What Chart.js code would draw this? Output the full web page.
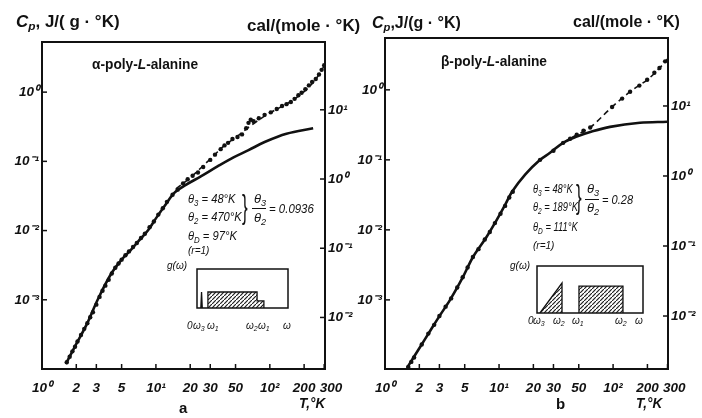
<!DOCTYPE html>
<html><head><meta charset="utf-8">
<script src="https://cdn.jsdelivr.net/npm/chart.js@4.4.1/dist/chart.umd.min.js"></script>
<style>
body{margin:0;background:#fff;}
#wrap{position:relative;width:702px;height:418px;overflow:hidden;background:#fff;font-family:'Liberation Sans',Arial,sans-serif;color:#111;}
canvas{position:absolute;}
.t{position:absolute;white-space:nowrap;line-height:1;transform-origin:left center;}
.t sub{font-size:70%;vertical-align:-0.3em;line-height:0;}
.i{font-style:italic;}
.b{font-weight:bold;}
</style></head><body><div id="wrap">
<canvas id="ca" width="380" height="418" style="left:0px;top:0px"></canvas>
<canvas id="cb" width="362" height="418" style="left:340px;top:0px"></canvas>
<canvas id="ia" width="93" height="41" style="left:196px;top:268px"></canvas>
<canvas id="ib" width="108" height="49" style="left:536px;top:265px"></canvas>
</div>
<script>
// ---- axis ticks ----
const T_TICKS = [1, 2, 3, 5, 10, 20, 30, 50, 100, 200, 300];
const T_TICK_LABELS = ['10\u2070', '2', '3', '5', '10\u00B9', '20', '30', '50', '10\u00B2', '200', '300'];
const CP_TICKS = [1e-3, 1e-2, 1e-1, 1];
const CP_TICK_LABELS = ['10\u207B\u00B3', '10\u207B\u00B2', '10\u207B\u00B9', '10\u2070'];
const CAL_TICKS = [1e-2, 1e-1, 1, 10];
const CAL_TICK_LABELS = ['10\u207B\u00B2', '10\u207B\u00B9', '10\u2070', '10\u00B9'];

// ---- panel a : alpha-poly-L-alanine ----
const A_MEAS_T  = [1.65,1.75,1.85,1.95,2.05,2.2,2.35,2.5,2.65,2.8,3.0,3.2,3.4,3.6,3.85,4.1,4.4,4.7,5.0,5.4,5.8,6.3,6.8,7.4,8.0,8.8,9.6,10.5,11.5,12.5,14,15.5,17.3,19,21,23.4,26,30,33,37,40,43,47,52,57,62,65,68,72,80,90,102,115,128,140,153,165,178,190,205,220,235,253,270,285,300];
const A_MEAS_CP = [1.25e-4,1.5e-4,1.8e-4,2.1e-4,2.5e-4,3.1e-4,3.8e-4,4.6e-4,5.6e-4,6.6e-4,8.5e-4,1.1e-3,1.35e-3,1.6e-3,1.95e-3,2.4e-3,2.9e-3,3.35e-3,3.8e-3,4.4e-3,5.0e-3,5.8e-3,6.6e-3,7.8e-3,9.0e-3,1.12e-2,1.35e-2,1.7e-2,2.1e-2,2.6e-2,3.3e-2,3.9e-2,4.8e-2,5.5e-2,6.2e-2,6.9e-2,8.3e-2,0.105,0.125,0.15,0.17,0.185,0.21,0.225,0.245,0.30,0.36,0.40,0.38,0.42,0.47,0.51,0.57,0.63,0.67,0.72,0.80,0.90,0.98,1.10,1.25,1.40,1.55,1.80,2.10,2.45];
const A_THEORY_T  = [1.62,2.0,2.5,3.08,4.0,5.0,6.0,7.0,8.5,10,12,14.5,18,25,35,48,65,90,140,240];
const A_THEORY_CP = [1.19e-4,2.3e-4,4.6e-4,1.0e-3,2.3e-3,3.8e-3,5.2e-3,7.0e-3,1.0e-2,1.5e-2,2.3e-2,3.5e-2,4.5e-2,6.1e-2,8.5e-2,0.114,0.145,0.19,0.25,0.30];
const A_SMOOTH_T  = [15,20,30,40,50,70,100,150,200,250,305];
const A_SMOOTH_CP = [0.040,0.058,0.108,0.17,0.22,0.34,0.50,0.72,1.02,1.50,2.50];

// ---- panel b : beta-poly-L-alanine ----
const B_MEAS_T  = [1.6,1.7,1.8,2.1,2.4,2.7,3.0,3.4,3.8,4.3,4.8,5.3,5.9,6.6,7.5,8.3,9.2,10.3,11.3,12.3,13.2,22.9,30,36.5,42,48,55,63,98,120,141,170,199,230,255,286];
const B_MEAS_CP = [1.1e-4,1.3e-4,1.5e-4,2.3e-4,3.3e-4,4.4e-4,5.9e-4,8.0e-4,1.05e-3,1.5e-3,2.1e-3,2.9e-3,4.1e-3,5.3e-3,7.3e-3,9.3e-3,1.25e-2,1.7e-2,2.2e-2,2.9e-2,3.5e-2,0.10,0.135,0.175,0.20,0.228,0.26,0.29,0.57,0.75,0.94,1.15,1.39,1.75,2.05,2.55];
const B_THEORY_T  = [1.56,2.0,2.5,3.0,3.72,4.83,5.91,7.69,9.22,11.3,13.0,17,22.9,28,36.4,48,63,94,172,297];
const B_THEORY_CP = [1.07e-4,2.04e-4,3.65e-4,5.86e-4,1.0e-3,2.13e-3,4.1e-3,7.7e-3,1.26e-2,2.28e-2,3.5e-2,6.2e-2,0.10,0.126,0.175,0.215,0.25,0.296,0.338,0.35];
const B_SMOOTH_T  = [36.4,48,63,98,141,199,245,300];
const B_SMOOTH_CP = [0.175,0.228,0.29,0.57,0.94,1.39,1.90,2.75];

// ---- insets g(omega) ----
const INSET_A_SPIKE_W = [0.42,0.5,0.58];
const INSET_A_SPIKE_G = [0,1,0];
const INSET_A_BAND_W  = [1.2,1.2,6.6,6.6,7.35,7.35];
const INSET_A_BAND_G  = [0,1,1,0.44,0.44,0];
const INSET_B_TRI_W   = [0.28,2.36,2.36];
const INSET_B_TRI_G   = [0,1,0];
const INSET_B_BAND_W  = [3.96,3.96,8.11,8.11];
const INSET_B_BAND_G  = [0,0.9,0.9,0];

const toXY = (xs, ys) => xs.map((x, i) => ({x: x, y: ys[i]}));
const INK = '#111';
const tickFont = {family: "'Liberation Sans', Arial, sans-serif", size: 13.5, style: 'italic', weight: 'bold'};

const framePlugin = {
  id: 'frame',
  afterDatasetsDraw(chart) {
    const {ctx, chartArea: a, scales} = chart;
    ctx.save();
    ctx.strokeStyle = INK;
    ctx.lineWidth = 2;
    ctx.strokeRect(a.left, a.top, a.right - a.left, a.bottom - a.top);
    ctx.lineWidth = 1.5;
    const L = 5;
    const seg = (x1, y1, x2, y2) => { ctx.beginPath(); ctx.moveTo(x1, y1); ctx.lineTo(x2, y2); ctx.stroke(); };
    scales.x.ticks.forEach(t => { const p = scales.x.getPixelForValue(t.value); seg(p, a.bottom, p, a.bottom - L); });
    scales.y.ticks.forEach(t => { const p = scales.y.getPixelForValue(t.value); seg(a.left, p, a.left + L, p); });
    scales.y2.ticks.forEach(t => { const p = scales.y2.getPixelForValue(t.value); seg(a.right, p, a.right - L, p); });
    ctx.restore();
  }
};

function panel(id, c) {
  const noGrid = {display: false, drawTicks: false};
  const lastX = T_TICKS.length - 1;
  return new Chart(document.getElementById(id), {
    type: 'scatter',
    data: {datasets: [
      {data: toXY(c.smT, c.smC), showLine: true, borderColor: INK, borderWidth: 1.6, borderDash: [6, 4], pointRadius: 0, tension: 0.35, order: 3},
      {data: toXY(c.thT, c.thC), showLine: true, borderColor: INK, borderWidth: 2.6, pointRadius: 0, tension: 0.35, order: 2},
      {data: toXY(c.msT, c.msC), showLine: false, pointRadius: 2.2, pointBackgroundColor: INK, pointBorderWidth: 0, order: 1}
    ]},
    options: {
      responsive: false, animation: false, devicePixelRatio: 1,
      layout: {padding: {top: c.top, left: 0, right: 0, bottom: 0}},
      plugins: {legend: {display: false}, tooltip: {enabled: false}},
      scales: {
        x: {type: 'logarithmic', position: 'bottom', min: c.xMin, max: c.xMax,
            grid: noGrid, border: {display: false},
            afterFit(s) { s.height = c.bottomH; },
            afterBuildTicks(s) { s.ticks = T_TICKS.map(v => ({value: v})); },
            ticks: {autoSkip: false, maxRotation: 0, minRotation: 0, padding: 11, color: INK, font: tickFont,
                    // the last label sits a little right of its tick, as in the print
                    callback: (v, i) => (i === lastX ? '\u2002\u2002' : '') + T_TICK_LABELS[i]}},
        y: {type: 'logarithmic', position: 'left', min: c.yMin, max: c.yMax,
            grid: noGrid, border: {display: false},
            afterFit(s) { s.width = c.leftW; },
            afterBuildTicks(s) { s.ticks = CP_TICKS.map(v => ({value: v})); },
            ticks: {autoSkip: false, padding: 3, color: INK, font: tickFont,
                    callback: (v, i) => CP_TICK_LABELS[i]}},
        y2: {type: 'logarithmic', position: 'right', min: c.yMin * c.f, max: c.yMax * c.f,
            grid: noGrid, border: {display: false},
            afterFit(s) { s.width = c.rightW; },
            afterBuildTicks(s) { s.ticks = CAL_TICKS.map(v => ({value: v})); },
            ticks: {autoSkip: false, padding: 3, color: INK, font: tickFont,
                    callback: (v, i) => CAL_TICK_LABELS[i]}}
      }
    },
    plugins: [framePlugin]
  });
}

panel('ca', {msT: A_MEAS_T, msC: A_MEAS_CP, thT: A_THEORY_T, thC: A_THEORY_CP, smT: A_SMOOTH_T, smC: A_SMOOTH_CP,
  top: 42, leftW: 42, rightW: 55, bottomH: 49, xMin: 1, xMax: 305, yMin: 1e-4, yMax: 5.3, f: 18});
panel('cb', {msT: B_MEAS_T, msC: B_MEAS_CP, thT: B_THEORY_T, thC: B_THEORY_CP, smT: B_SMOOTH_T, smC: B_SMOOTH_CP,
  top: 38, leftW: 45, rightW: 34, bottomH: 49, xMin: 1, xMax: 303, yMin: 1.03e-4, yMax: 5.5, f: 17});

function hatch() {
  const c = document.createElement('canvas'); c.width = 4; c.height = 4;
  const x = c.getContext('2d');
  x.fillStyle = '#fff'; x.fillRect(0, 0, 4, 4);
  x.strokeStyle = '#222'; x.lineWidth = 1.2;
  x.beginPath(); x.moveTo(-1, 5); x.lineTo(5, -1); x.stroke();
  return x.createPattern(c, 'repeat');
}
const boxPlugin = {
  id: 'box',
  afterDatasetsDraw(chart) {
    const {ctx, chartArea: a} = chart;
    ctx.save(); ctx.strokeStyle = INK; ctx.lineWidth = 1.5;
    ctx.strokeRect(a.left, a.top, a.right - a.left, a.bottom - a.top);
    ctx.restore();
  }
};
function inset(id, shapes, yMax) {
  const pat = hatch();
  return new Chart(document.getElementById(id), {
    type: 'scatter',
    data: {datasets: shapes.map(s => ({data: toXY(s[0], s[1]), showLine: true, fill: 'origin',
      backgroundColor: s[2] ? INK : pat, borderColor: INK, borderWidth: 1.3, pointRadius: 0, tension: 0}))},
    options: {
      responsive: false, animation: false, devicePixelRatio: 1,
      layout: {padding: 1},
      plugins: {legend: {display: false}, tooltip: {enabled: false}},
      scales: {x: {type: 'linear', display: false, min: 0, max: 10}, y: {type: 'linear', display: false, min: 0, max: yMax}}
    },
    plugins: [boxPlugin]
  });
}
inset('ia', [[INSET_A_SPIKE_W, INSET_A_SPIKE_G, true], [INSET_A_BAND_W, INSET_A_BAND_G, false]], 2.44);
inset('ib', [[INSET_B_TRI_W, INSET_B_TRI_G, false], [INSET_B_BAND_W, INSET_B_BAND_G, false]], 1.57);

// ---- text ----
const wrap = document.getElementById('wrap');
function T(html, x, y, size, cls, extra) {
  const d = document.createElement('div');
  d.className = 't ' + (cls || '');
  d.innerHTML = html;
  d.style.left = x + 'px';
  d.style.top = (y - size * 0.6) + 'px';
  d.style.fontSize = size + 'px';
  if (extra) d.style.cssText += extra;
  wrap.appendChild(d);
  return d;
}
const SQ = (k) => 'transform:scaleX(' + k + ');';
// axis titles
T('<i>C<sub>p</sub></i>, J/( g · °K)', 16, 24, 16, 'b', SQ(1.06));
T('cal/(mole · °K)', 247, 28, 16, 'b', SQ(1.06));
T('<i>C<sub>p</sub></i>,J/(g · °K)', 372, 25, 16, 'b', SQ(1.0));
T('cal/(mole · °K)', 573, 24, 16, 'b', SQ(1.0));
T('α-poly-<i>L</i>-alanine', 92, 65, 14, 'b', SQ(0.98));
T('β-poly-<i>L</i>-alanine', 441, 62, 14, 'b', SQ(0.98));
T('<i>T</i>,°<i>K</i>', 299, 404, 15, 'i b', SQ(0.9));
T('<i>T</i>,°<i>K</i>', 636, 404, 15, 'i b', SQ(0.9));
T('a', 179, 409, 15, 'b');
T('b', 556, 405, 15, 'b');

// annotations a
const SA = SQ(0.86);
T('θ<sub>3</sub> = 48°K', 188, 200, 13, 'i', SA);
T('θ<sub>2</sub> = 470°K', 188, 218, 13, 'i', SA);
T('θ<sub>D</sub> = 97°K', 188, 237, 13, 'i', SA);
T('(r=1)', 188, 252, 10, 'i');
T('}', 242, 209, 34, '', 'transform:scaleX(0.5);');
T('θ<sub>3</sub>', 254, 200, 13, 'i');
T('θ<sub>2</sub>', 254, 219, 13, 'i');
T('', 252, 209, 2, '', 'width:14px;height:1.6px;background:#111;');
T('= 0.0936', 269, 210, 13, 'i', SQ(0.88));
// inset a labels
T('g(ω)', 167, 267, 10, 'i');
T('0', 187, 327, 10, 'i');
T('ω<sub>3</sub>', 193, 327, 10, 'i');
T('ω<sub>1</sub>', 207, 327, 10, 'i');
T('ω<sub>2</sub>', 246, 327, 10, 'i');
T('ω<sub>1</sub>', 258, 327, 10, 'i');
T('ω', 283, 327, 10, 'i');

// annotations b
const SB = SQ(0.72);
T('θ<sub>3</sub> = 48°K', 533, 190, 13, 'i', SB);
T('θ<sub>2</sub> = 189°K', 533, 208, 13, 'i', SB);
T('θ<sub>D</sub> = 111°K', 533, 228, 13, 'i', SB);
T('(r=1)', 533, 247, 10, 'i');
T('}', 576, 199, 34, '', 'transform:scaleX(0.5);');
T('θ<sub>3</sub>', 587, 190, 13, 'i');
T('θ<sub>2</sub>', 587, 209, 13, 'i');
T('', 585, 200, 2, '', 'width:14px;height:1.6px;background:#111;');
T('= 0.28', 602, 201, 13, 'i', SQ(0.85));
// inset b labels
T('g(ω)', 510, 267, 10, 'i');
T('0', 528, 322, 10, 'i');
T('ω<sub>3</sub>', 533, 322, 10, 'i');
T('ω<sub>2</sub>', 553, 322, 10, 'i');
T('ω<sub>1</sub>', 572, 322, 10, 'i');
T('ω<sub>2</sub>', 615, 322, 10, 'i');
T('ω', 635, 322, 10, 'i');
</script>
</body></html>
